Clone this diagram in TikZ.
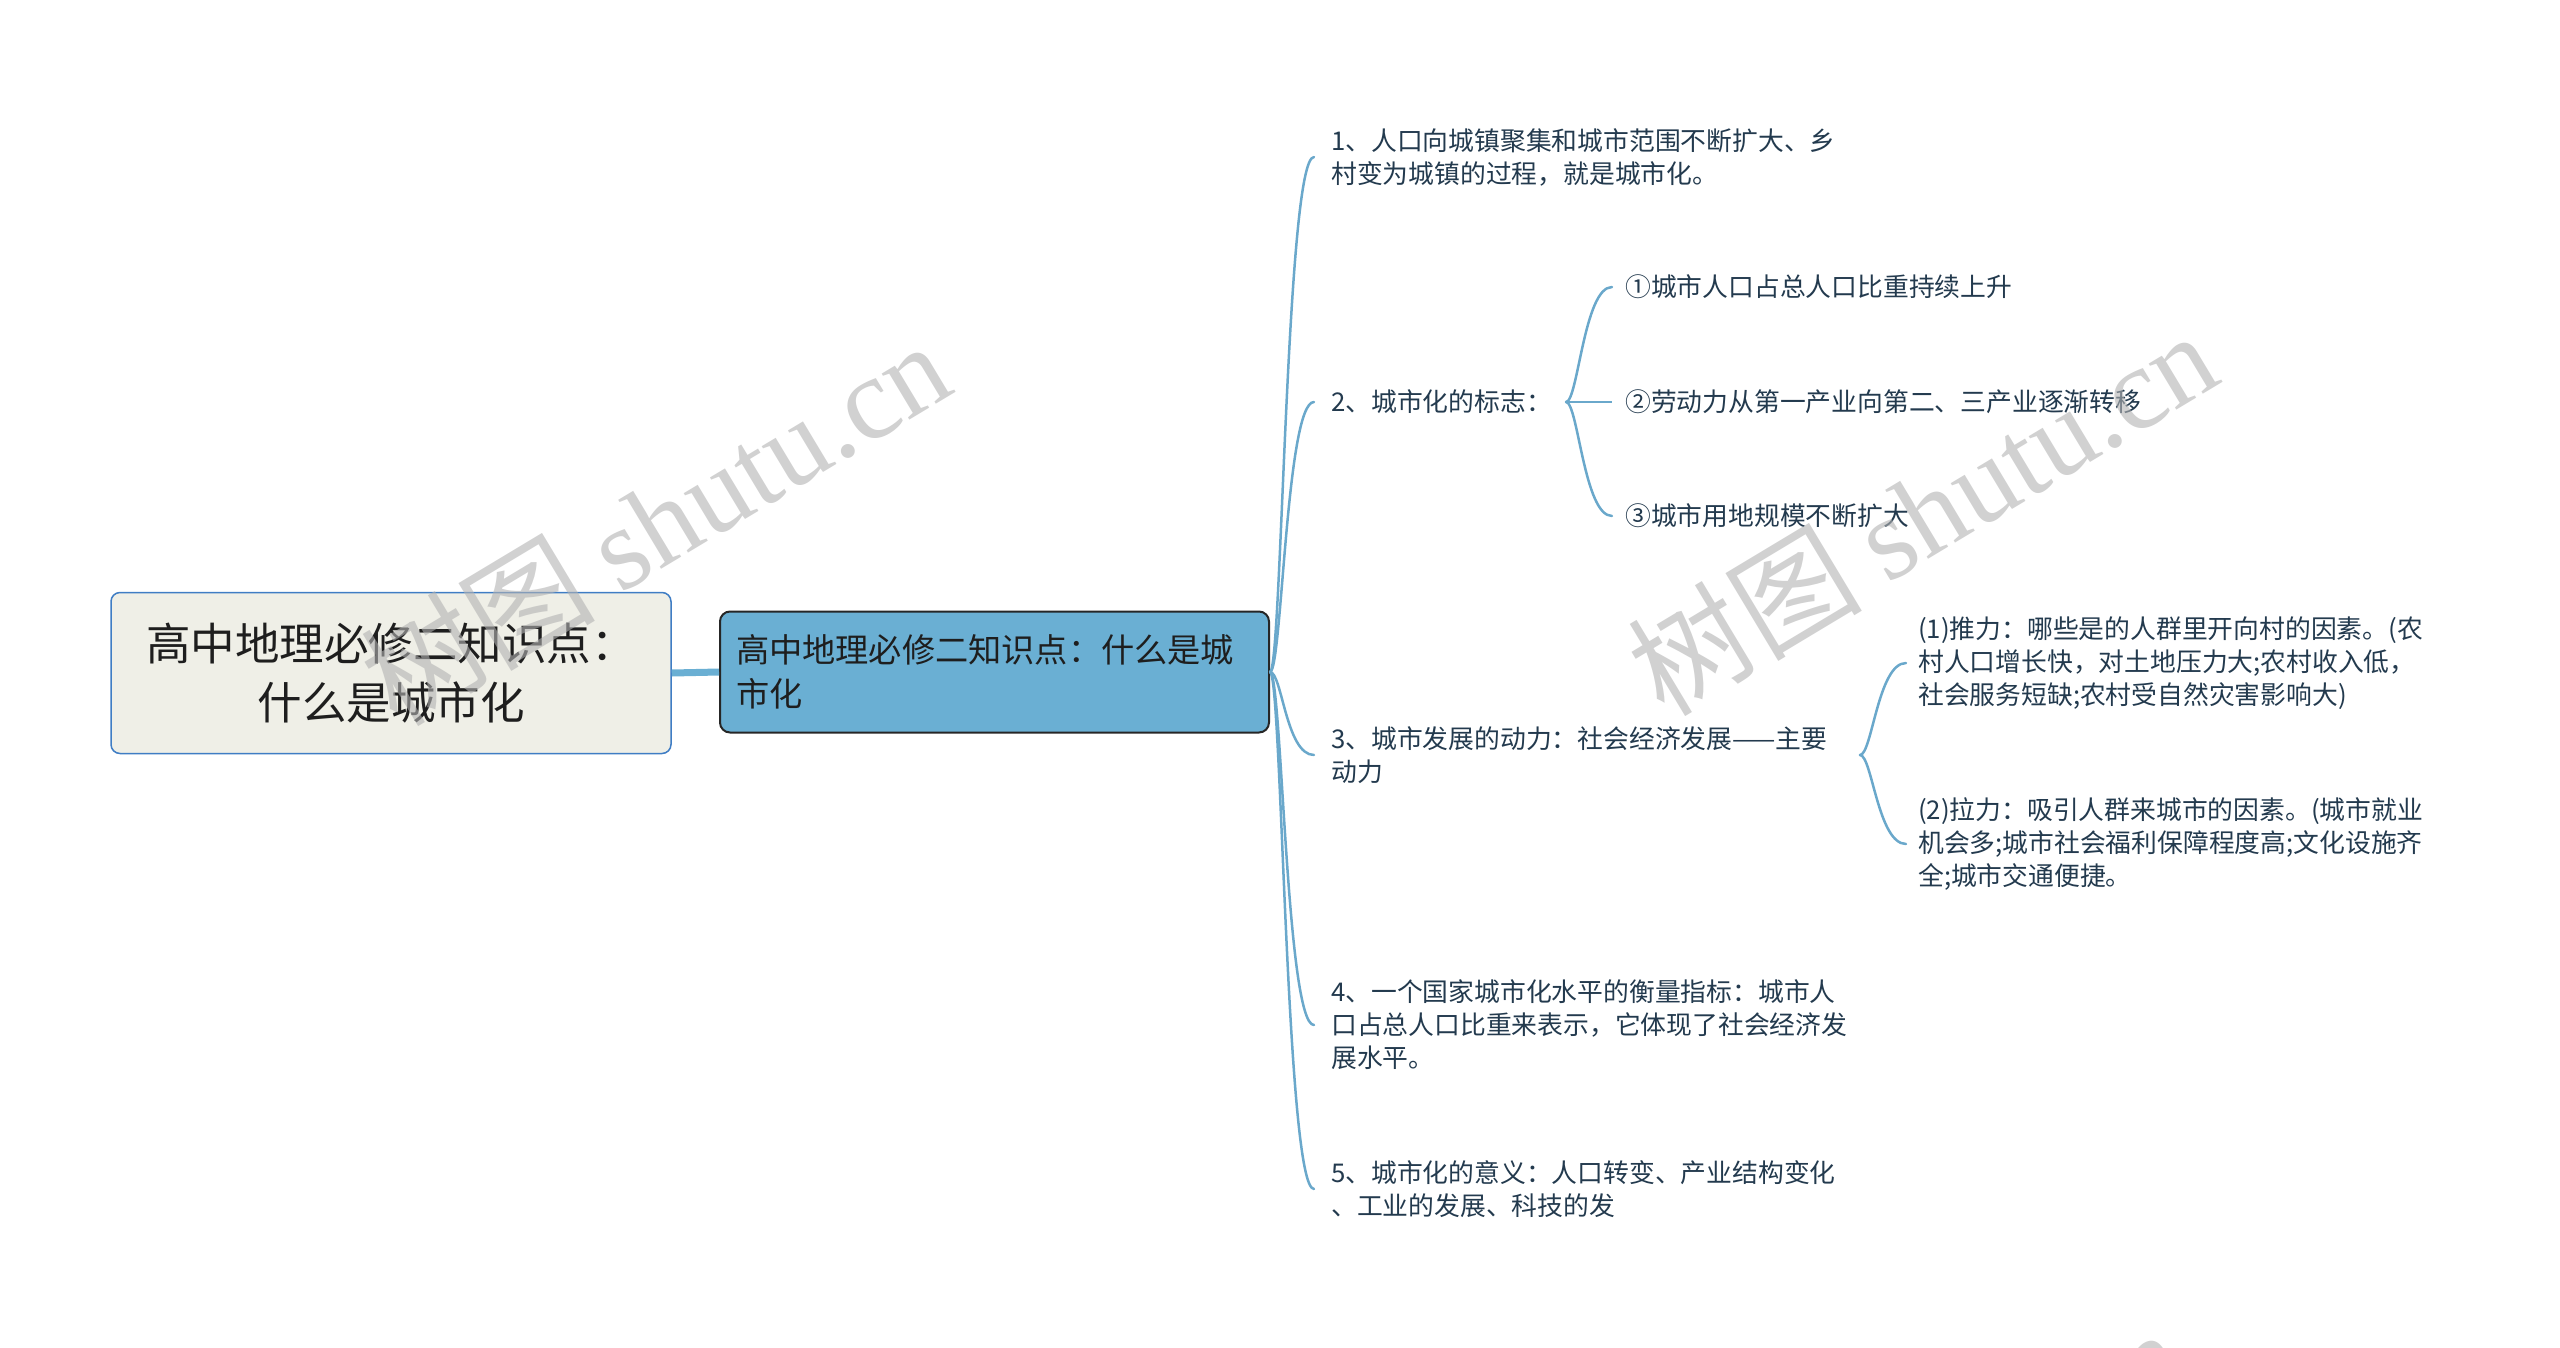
\documentclass[tikz,border=0pt]{standalone}
\usepackage{fontspec}
\setmainfont{Noto Sans CJK SC}
\newfontfamily\cjkwm{Noto Sans CJK SC}
\newfontfamily\wmserif{Liberation Serif}
\usetikzlibrary{calc}
\definecolor{rootfill}{HTML}{EFEFE7}
\definecolor{rootdraw}{HTML}{3F7DC4}
\definecolor{mainfill}{HTML}{6AAFD3}
\definecolor{linec}{HTML}{6AA8CB}
\definecolor{leaftext}{HTML}{233A4E}
\definecolor{maintext}{HTML}{1E1E1E}
\tikzset{
  rootbox/.style={draw=rootdraw, fill=rootfill, line width=1.5, rounded corners=9,
    minimum width=560, minimum height=161, align=center, inner sep=0pt,
    font=\fontsize{44.5}{59}\selectfont, text=maintext},
  mainbox/.style={draw=black!85, fill=mainfill, line width=2, rounded corners=10,
    minimum width=549, minimum height=121, text width=517, align=left, inner xsep=16pt,
    font=\fontsize{33.2}{44}\selectfont, text=maintext},
  leaf/.style={anchor=west, align=left, inner sep=0pt,
    font=\fontsize{25.8}{33}\selectfont, text=leaftext},
  branch/.style={line width=2.5, draw=linec, line cap=round,
    to path={.. controls ($(\tikztostart)+(12,0)$) and ($(\tikztotarget)+(-28,0)$) .. (\tikztotarget)}},
  wm/.style={text=black!30, text opacity=0.6, inner sep=0pt, rotate=31,
    font=\fontsize{117}{117}\selectfont}
}
\newcommand{\wmtext}{{\cjkwm 树图} {\wmserif shutu.cn}}
\begin{document}
\begin{tikzpicture}[x=1pt,y=-1pt]
\useasboundingbox (0,0) rectangle (2560,1347);
% nodes
\node[rootbox] (root) at (391,673) {高中地理必修二知识点：\\什么是城市化};
\node[mainbox] (main) at (994.5,672) {高中地理必修二知识点：什么是城\\市化};
\node[leaf] (l1) at (1331,157) {1、人口向城镇聚集和城市范围不断扩大、乡\\村变为城镇的过程，就是城市化。};
\node[leaf] (l2) at (1331,402) {2、城市化的标志：};
\node[leaf] (l3) at (1331,755) {3、城市发展的动力：社会经济发展——主要\\动力};
\node[leaf] (l4) at (1331,1025) {4、一个国家城市化水平的衡量指标：城市人\\口占总人口比重来表示，它体现了社会经济发\\展水平。};
\node[leaf] (l5) at (1331,1189) {5、城市化的意义：人口转变、产业结构变化\\、工业的发展、科技的发};
\node[leaf] (s21) at (1625,287) {①城市人口占总人口比重持续上升};
\node[leaf] (s22) at (1625,402) {②劳动力从第一产业向第二、三产业逐渐转移};
\node[leaf] (s23) at (1625,516) {③城市用地规模不断扩大};
\node[leaf] (s31) at (1918,663) {(1)推力：哪些是的人群里开向村的因素。(农\\村人口增长快，对土地压力大;农村收入低，\\社会服务短缺;农村受自然灾害影响大)};
\node[leaf] (s32) at (1918,844) {(2)拉力：吸引人群来城市的因素。(城市就业\\机会多;城市社会福利保障程度高;文化设施齐\\全;城市交通便捷。};
% hubs
\coordinate (hub) at (main.east);
\coordinate (h2) at (1566,402);
\coordinate (h3) at (1860,755);
% connectors
\draw[line width=7, draw=mainfill] (root.east) -- (main.west);
\foreach \n in {l1,l2,l3,l4,l5}
  \draw[branch] (hub) to ($(\n.west)+(-17,0)$);
\draw[line width=2.5, draw=linec] (h2) -- ($(s22.west)+(-13,0)$);
\draw[branch] (h2) to ($(s21.west)+(-13,0)$);
\draw[branch] (h2) to ($(s23.west)+(-13,0)$);
\draw[branch] (h3) to ($(s31.west)+(-12,0)$);
\draw[branch] (h3) to ($(s32.west)+(-12,0)$);
% watermarks
\begin{scope}
\clip (0,0) rectangle (2560,1347);
\node[wm] (w1) at (655,522) {\wmtext};
\node[wm] (w2) at (1922,512) {\wmtext};
\node[wm] (w3) at (622,1520) {\wmtext};
\node[wm] (w4) at (1889,1510) {\wmtext};
\end{scope}
\end{tikzpicture}
\end{document}
